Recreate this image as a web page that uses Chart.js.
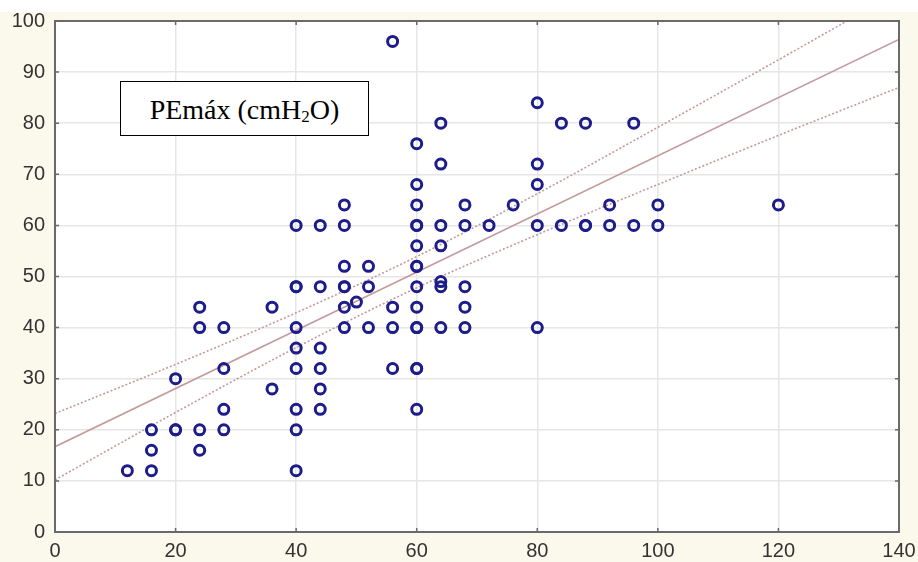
<!DOCTYPE html>
<html>
<head>
<meta charset="utf-8">
<script src="https://cdn.jsdelivr.net/npm/chart.js@4/dist/chart.umd.min.js"></script>
<style>
    html, body { margin: 0; padding: 0; background: #ffffff; }
    #wrap { position: relative; width: 918px; height: 562px; }
    #grafico { position: absolute; left: 0; top: 0; }
    #rotulo {
        position: absolute; left: 120px; top: 81px; width: 247px; height: 53px;
        border: 1.5px solid #000; background: #fff;
        font-family: "Liberation Serif", "Times New Roman", serif; font-size: 28px;
        line-height: 55px; text-align: center; color: #000;
    }
    #rotulo sub { font-size: 17px; vertical-align: -3px; line-height: 0; }
</style>
</head>
<body>
<div id="wrap">
    <canvas id="grafico" width="918" height="562"></canvas>
    <div id="rotulo">PEmáx (cmH<sub>2</sub>O)</div>
</div>
<script>
// Pontos observados (x, y)
const pontosX = [12, 16, 16, 16, 20, 20, 20, 24, 24, 24, 24, 28, 28, 28, 28, 36, 36,
    40, 40, 40, 40, 40, 40, 40, 40, 40, 44, 44, 44, 44, 44, 44,
    48, 48, 48, 48, 48, 48, 48, 50, 52, 52, 52, 56, 56, 56, 56,
    60, 60, 60, 60, 60, 60, 60, 60, 60, 60, 60, 60, 60, 60, 60,
    64, 64, 64, 64, 64, 64, 64, 68, 68, 68, 68, 68, 72, 76,
    80, 80, 80, 80, 80, 84, 84, 88, 88, 88, 92, 92, 96, 96, 100, 100, 120];
const pontosY = [12, 12, 16, 20, 20, 20, 30, 16, 20, 40, 44, 20, 24, 32, 40, 28, 44,
    12, 20, 24, 32, 36, 40, 48, 48, 60, 24, 28, 32, 36, 48, 60,
    40, 44, 48, 48, 52, 60, 64, 45, 40, 48, 52, 32, 40, 44, 96,
    24, 32, 40, 40, 44, 48, 52, 52, 56, 60, 60, 64, 68, 76, 32,
    40, 48, 49, 56, 60, 72, 80, 40, 44, 48, 60, 64, 60, 64,
    40, 60, 68, 72, 84, 60, 80, 60, 60, 80, 60, 64, 60, 80, 60, 64, 64];

// Reta de regressão
const retaX = [0, 140];
const retaY = [16.7, 96.4];

// Faixas de confiança
const faixaX = [0, 20, 40, 60, 80, 100, 120, 140];
const faixaSup = [23.2, 32.8, 42.9, 53.9, 66.2, 79.2, 92.4, 105.8];
const faixaInf = [10.2, 23.4, 36.1, 47.8, 58.2, 68.0, 77.6, 87.0];

// Rótulos dos eixos
const ticksX = [0, 20, 40, 60, 80, 100, 120, 140];
const ticksY = [0, 10, 20, 30, 40, 50, 60, 70, 80, 90, 100];

const juntar = (xs, ys) => xs.map((x, i) => ({ x: x, y: ys[i] }));

const corLinha = '#c39a9c';

// Fundo creme e área branca com moldura
const fundoPlugin = {
    id: 'fundo',
    beforeDraw(chart) {
        const ctx = chart.ctx;
        const a = chart.chartArea;
        ctx.save();
        ctx.fillStyle = '#ffffff';
        ctx.fillRect(0, 0, chart.width, chart.height);
        ctx.fillStyle = '#fbf8ec';
        ctx.fillRect(0, 12, chart.width, chart.height - 12);
        ctx.fillStyle = '#ffffff';
        ctx.fillRect(a.left, a.top, a.right - a.left, a.bottom - a.top);
        ctx.restore();
    },
    afterDatasetsDraw(chart) {
        const ctx = chart.ctx;
        const a = chart.chartArea;
        const sx = chart.scales.x;
        const sy = chart.scales.y;
        ctx.save();
        ctx.strokeStyle = '#6a6a6a';
        ctx.lineWidth = 2;
        ctx.strokeRect(a.left, a.top, a.right - a.left, a.bottom - a.top);
        // marcas internas
        ctx.lineWidth = 1.5;
        ctx.beginPath();
        ticksX.forEach(v => {
            const p = sx.getPixelForValue(v);
            ctx.moveTo(p, a.bottom); ctx.lineTo(p, a.bottom - 4);
            ctx.moveTo(p, a.top); ctx.lineTo(p, a.top + 4);
        });
        ticksY.forEach(v => {
            const p = sy.getPixelForValue(v);
            ctx.moveTo(a.left, p); ctx.lineTo(a.left + 4, p);
            ctx.moveTo(a.right, p); ctx.lineTo(a.right - 4, p);
        });
        ctx.stroke();
        ctx.restore();
    }
};

const ctx = document.getElementById('grafico').getContext('2d');
new Chart(ctx, {
    type: 'scatter',
    data: {
        datasets: [
            {
                label: 'PEmáx',
                data: juntar(pontosX, pontosY),
                pointStyle: 'circle',
                pointRadius: 5,
                pointHoverRadius: 5,
                borderWidth: 3,
                borderColor: '#1c1c8a',
                backgroundColor: 'rgba(0,0,0,0)',
                order: 0
            },
            {
                type: 'line',
                label: 'Regressão',
                data: juntar(retaX, retaY),
                borderColor: corLinha,
                borderWidth: 1.6,
                pointRadius: 0,
                fill: false,
                order: 1
            },
            {
                type: 'line',
                label: 'Superior',
                data: juntar(faixaX, faixaSup),
                borderColor: corLinha,
                borderWidth: 1.6,
                borderDash: [2, 2],
                cubicInterpolationMode: 'monotone',
                pointRadius: 0,
                fill: false,
                order: 2
            },
            {
                type: 'line',
                label: 'Inferior',
                data: juntar(faixaX, faixaInf),
                borderColor: corLinha,
                borderWidth: 1.6,
                borderDash: [2, 2],
                cubicInterpolationMode: 'monotone',
                pointRadius: 0,
                fill: false,
                order: 3
            }
        ]
    },
    plugins: [fundoPlugin],
    options: {
        responsive: false,
        animation: false,
        layout: { padding: { left: 0, right: 19, top: 21, bottom: 0 } },
        plugins: {
            legend: { display: false },
            tooltip: { enabled: false }
        },
        scales: {
            x: {
                type: 'linear',
                min: 0,
                max: 140,
                afterBuildTicks: (s) => { s.ticks = ticksX.map(v => ({ value: v })); },
                afterFit: (s) => { s.height = 30; s.paddingLeft = 0; s.paddingRight = 0; },
                grid: { color: '#e6e6e6', lineWidth: 1.5, drawTicks: false },
                border: { display: false },
                ticks: {
                    color: '#333333',
                    padding: 7,
                    font: { family: 'Liberation Sans, Arial, sans-serif', size: 20 }
                }
            },
            y: {
                type: 'linear',
                min: 0,
                max: 100,
                afterBuildTicks: (s) => { s.ticks = ticksY.map(v => ({ value: v })); },
                afterFit: (s) => { s.width = 55; s.paddingTop = 0; s.paddingBottom = 0; },
                grid: { color: '#e6e6e6', lineWidth: 1.5, drawTicks: false },
                border: { display: false },
                ticks: {
                    color: '#333333',
                    padding: 10,
                    font: { family: 'Liberation Sans, Arial, sans-serif', size: 20 }
                }
            }
        }
    }
});
</script>
</body>
</html>
